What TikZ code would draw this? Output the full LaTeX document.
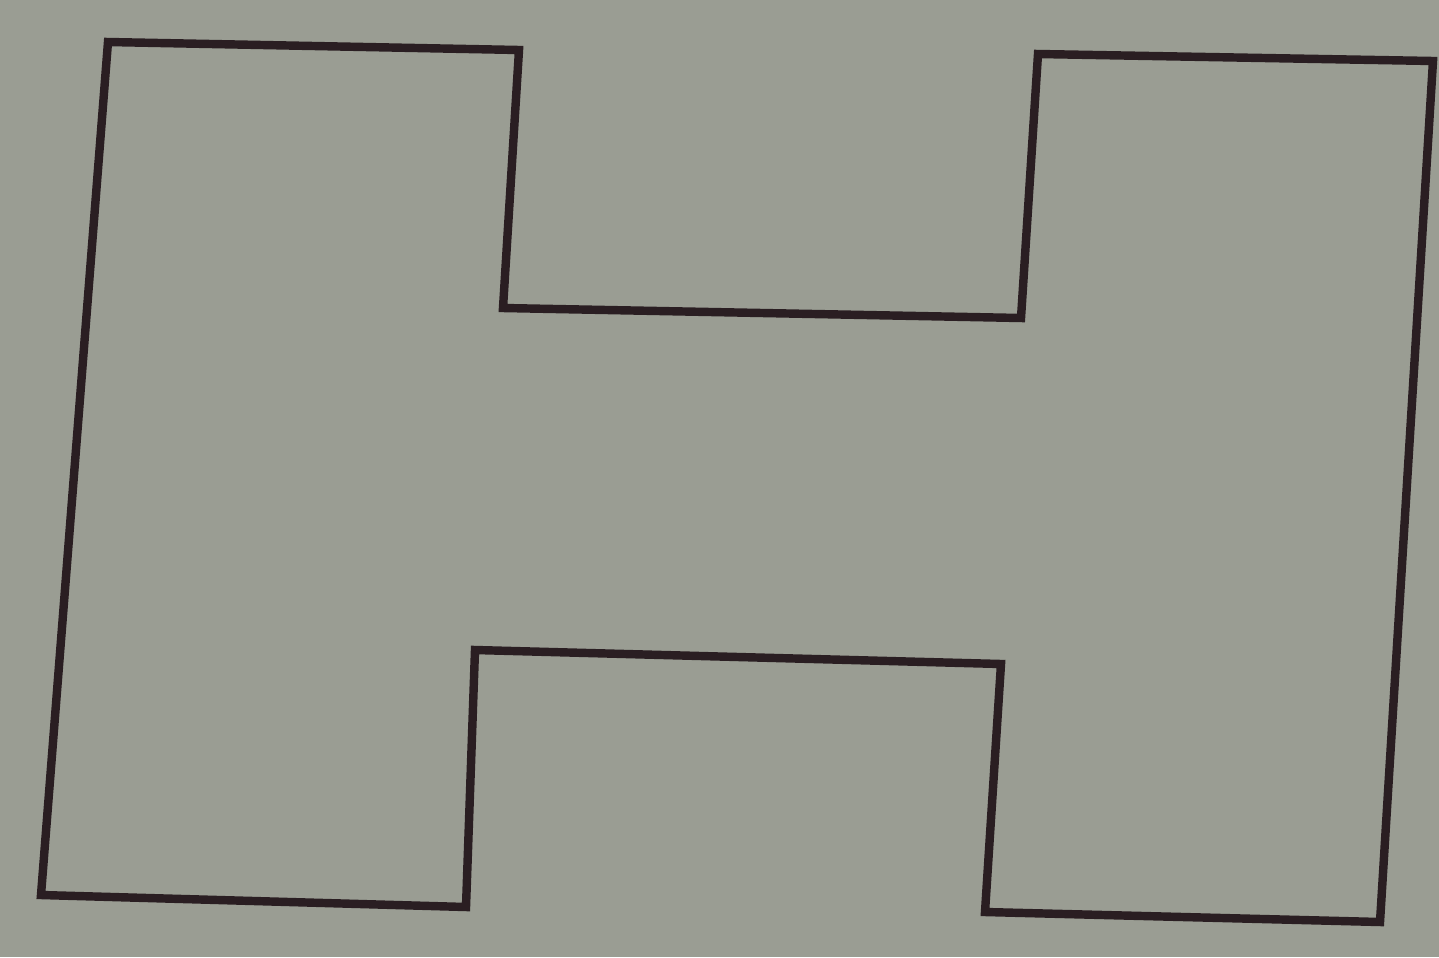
\documentclass[tikz,border=0pt]{standalone}
\definecolor{paper}{RGB}{154,157,147}
\definecolor{ink}{RGB}{42,30,34}
\begin{document}
\begin{tikzpicture}[x=0.01cm,y=-0.01cm,
  outline/.style={draw=ink,line width=2.4pt,line join=miter}]
\fill[paper] (0,0) rectangle (1439,957);
\useasboundingbox (0,0) rectangle (1439,957);
\coordinate (p1) at (108,42);
\coordinate (p2) at (519,50);
\coordinate (p3) at (503,308);
\coordinate (p4) at (1021,318);
\coordinate (p5) at (1038,54);
\coordinate (p6) at (1433,61);
\coordinate (p7) at (1380,922);
\coordinate (p8) at (985,912);
\coordinate (p9) at (1001,664);
\coordinate (p10) at (475,650);
\coordinate (p11) at (466,907);
\coordinate (p12) at (41,895);
\draw[outline] (p1) -- (p2) -- (p3) -- (p4) -- (p5) -- (p6) -- (p7) -- (p8) -- (p9) -- (p10) -- (p11) -- (p12) -- cycle;
\end{tikzpicture}
\end{document}
